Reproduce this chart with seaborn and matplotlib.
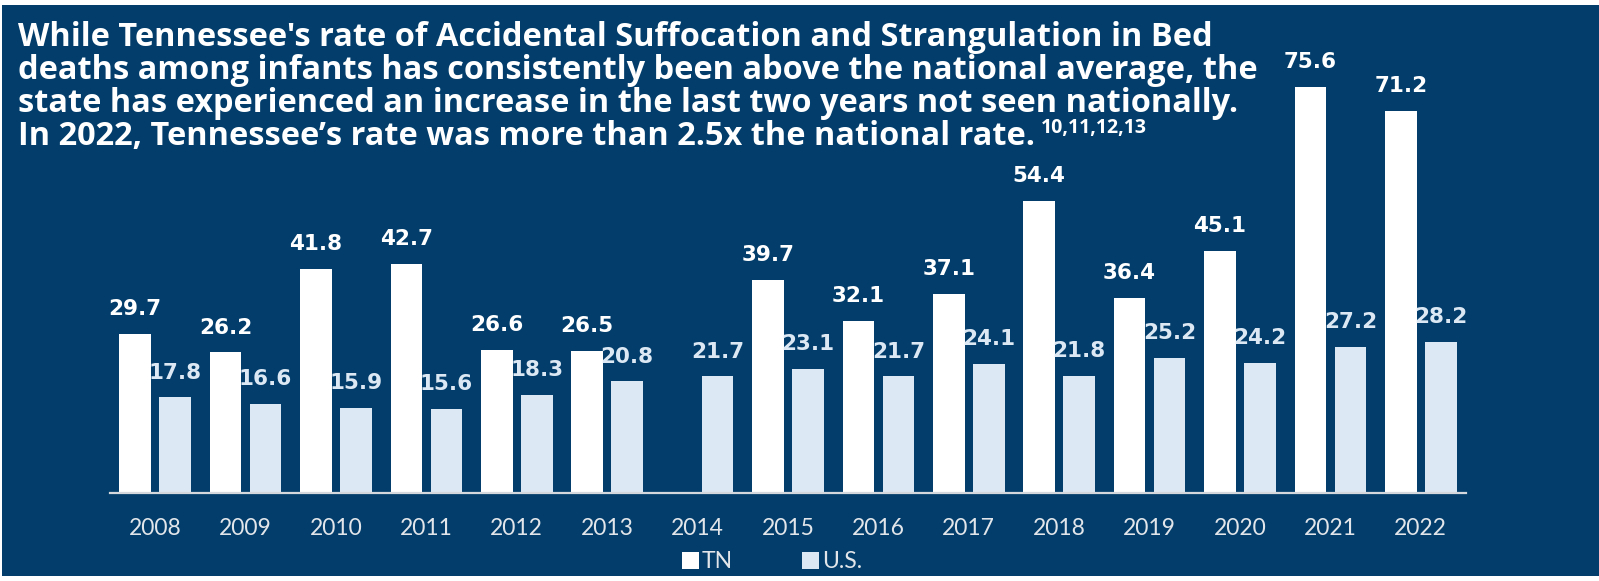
import numpy as np
import pandas as pd
import matplotlib
matplotlib.use("Agg")
import matplotlib.pyplot as plt
from matplotlib.patches import Rectangle, Patch
import seaborn as sns

years = ["2008", "2009", "2010", "2011", "2012", "2013", "2014", "2015",
         "2016", "2017", "2018", "2019", "2020", "2021", "2022"]
tn_rates = [29.7, 26.2, 41.8, 42.7, 26.6, 26.5, np.nan, 39.7, 32.1, 37.1,
            54.4, 36.4, 45.1, 75.6, 71.2]
us_rates = [17.8, 16.6, 15.9, 15.6, 18.3, 20.8, 21.7, 23.1, 21.7, 24.1,
            21.8, 25.2, 24.2, 27.2, 28.2]
series_names = ["TN", "U.S."]

title_lines = [
    "While Tennessee's rate of Accidental Suffocation and Strangulation in Bed",
    "deaths among infants has consistently been above the national average, the",
    "state has experienced an increase in the last two years not seen nationally.",
    "In 2022, Tennessee\u2019s rate was more than 2.5x the national rate.",
]
title_sup = "10,11,12,13"

BG = "#023D6B"
TN_COL = "#FFFFFF"
US_COL = "#DCE8F4"
TICK_COL = "#E2E6EA"

df = pd.DataFrame({
    "Year": years * 2,
    "Rate": tn_rates + us_rates,
    "Area": [series_names[0]] * len(years) + [series_names[1]] * len(years),
})

W, H = 1599, 581
fig = plt.figure(figsize=(W / 100, H / 100), dpi=100)
fig.patch.set_facecolor("white")
fig.add_artist(Rectangle((2 / W, 5 / H), (W - 2) / W, (H - 10) / H,
                         transform=fig.transFigure, facecolor=BG,
                         edgecolor="none", zorder=-10))

ymax = 80
px_per_unit = 5.37
ax_left, ax_right, ax_base = 110, 1466, 493
ax_h = ymax * px_per_unit
ax = fig.add_axes([ax_left / W, (H - ax_base) / H, (ax_right - ax_left) / W, ax_h / H])
ax.set_facecolor("none")

sns.barplot(data=df, x="Year", y="Rate", hue="Area", order=years,
            hue_order=series_names, palette={"TN": TN_COL, "U.S.": US_COL},
            width=0.885, gap=0.21, saturation=1, errorbar=None,
            legend=False, ax=ax)

ax.set_ylim(0, ymax)
ax.set_xlim(-0.5, len(years) - 0.5)
for s in ["left", "top", "right"]:
    ax.spines[s].set_visible(False)
ax.spines["bottom"].set_color("#D5D8DC")
ax.spines["bottom"].set_linewidth(1.6)
ax.set_yticks([])
ax.set_xlabel("")
ax.set_ylabel("")
ax.tick_params(axis="x", length=0, pad=18, labelsize=16.5, labelcolor=TICK_COL)
for lab in ax.get_xticklabels():
    lab.set_fontfamily("Lato")

label_cols = [TN_COL, US_COL]
for cont, col in zip(ax.containers, label_cols):
    for p in cont:
        h = p.get_height()
        if np.isnan(h) or h == 0:
            continue
        ax.annotate(f"{h:.1f}", (p.get_x() + p.get_width() / 2, h),
                    xytext=(0, 13.5), textcoords="offset points",
                    ha="center", va="baseline", color=col,
                    fontsize=15.5, fontweight="bold", family="DejaVu Sans")

# Title
renderer = fig.canvas.get_renderer()
tfam = "Open Sans"
base_size = 22
probe = fig.text(0, 0, title_lines[1], fontsize=base_size, fontweight="bold", family=tfam)
wpx = probe.get_window_extent(renderer).width
probe.remove()
tsize = base_size * (1254 - 18) / wpx
baselines = [46, 79, 112, 145]
last = None
for line, b in zip(title_lines, baselines):
    last = fig.text(18 / W, (H - b) / H, line, fontsize=tsize, fontweight="bold",
                    family=tfam, color="white", ha="left", va="baseline")
ext = last.get_window_extent(renderer)
fig.text((ext.x1 + 6) / W, (H - 145 + 12) / H, title_sup, fontsize=tsize * 0.6,
         fontweight="bold", family=tfam, color="white", ha="left", va="baseline")

handles = [Patch(facecolor=TN_COL, edgecolor="none"),
           Patch(facecolor=US_COL, edgecolor="none")]
leg = fig.legend(handles, series_names, loc="center", ncol=2,
                 bbox_to_anchor=(772 / W, (H - 562) / H), frameon=False,
                 prop={"family": "Lato", "size": 16.5},
                 handlelength=0.73, handleheight=0.73, handletextpad=0.15,
                 columnspacing=3.0, borderpad=0, borderaxespad=0)
for t in leg.get_texts():
    t.set_color(TICK_COL)

fig.savefig("out.png", dpi=100, facecolor=fig.get_facecolor())
